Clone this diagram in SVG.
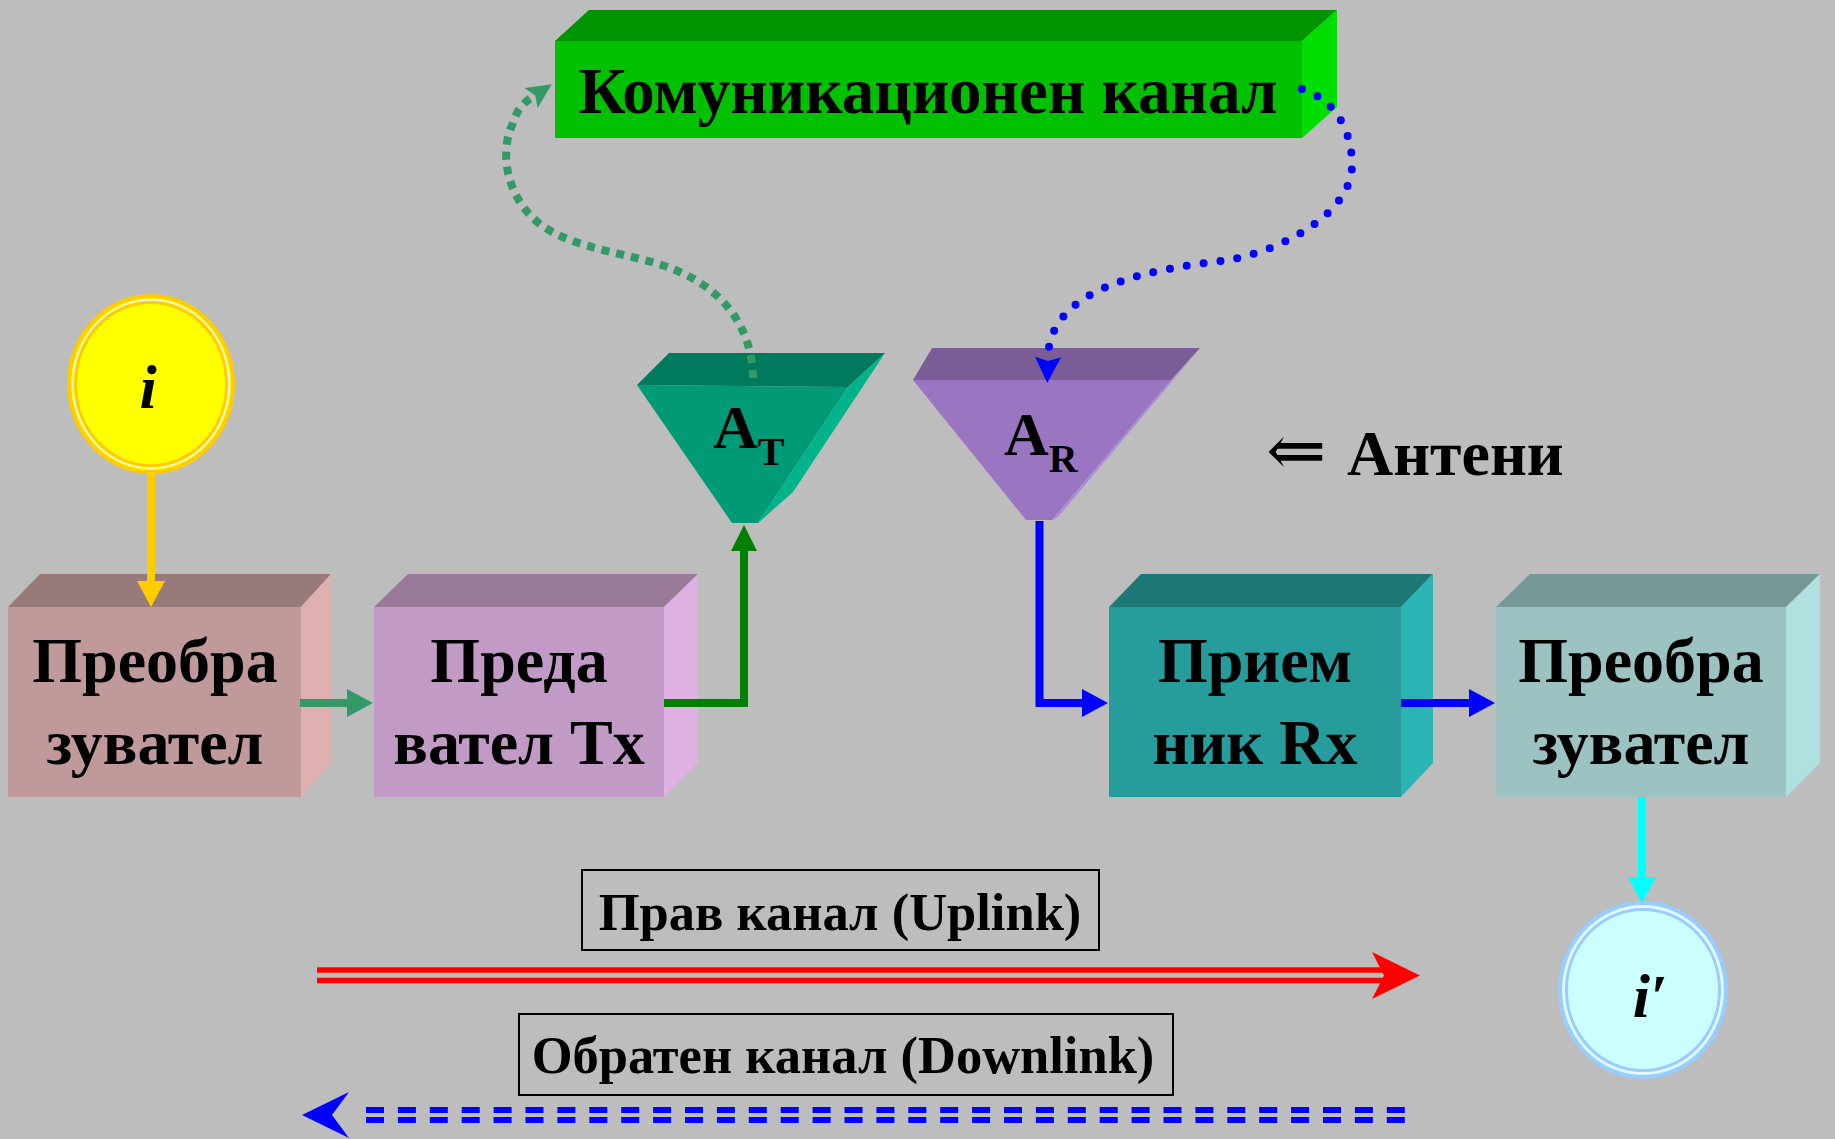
<svg xmlns="http://www.w3.org/2000/svg" width="1835" height="1139" viewBox="0 0 1835 1139">
<style>
.lbl{font-family:"Liberation Serif","Times New Roman","DejaVu Serif",serif;font-weight:bold;fill:#000;}
.big{font-size:64px;text-anchor:middle;}
.cap{font-size:52.5px;text-anchor:middle;}
.frame{fill:none;stroke:#000;stroke-width:2;}
.solid{fill:none;stroke-linecap:butt;stroke-linejoin:miter;stroke-width:8;}
</style>
<defs>
<marker id="mY" markerUnits="userSpaceOnUse" markerWidth="26" markerHeight="28" viewBox="0 -14 26 28" refX="0" refY="0" orient="auto"><path d="M0,-14 L26,0 L0,14 z" fill="#FFCC00"/></marker>
<marker id="mSG" markerUnits="userSpaceOnUse" markerWidth="26" markerHeight="28" viewBox="0 -14 26 28" refX="0" refY="0" orient="auto"><path d="M0,-14 L26,0 L0,14 z" fill="#339966"/></marker>
<marker id="mG" markerUnits="userSpaceOnUse" markerWidth="26" markerHeight="26" viewBox="0 -13 26 26" refX="0" refY="0" orient="auto"><path d="M0,-13 L26,0 L0,13 z" fill="#008000"/></marker>
<marker id="mB" markerUnits="userSpaceOnUse" markerWidth="26" markerHeight="28" viewBox="0 -14 26 28" refX="0" refY="0" orient="auto"><path d="M0,-14 L26,0 L0,14 z" fill="#0000FF"/></marker>
<marker id="mBd" markerUnits="userSpaceOnUse" markerWidth="26" markerHeight="26" viewBox="0 -13 26 26" refX="0" refY="0" orient="auto"><path d="M0,-13 L26,0 L0,13 L4,0 z" fill="#0000FF"/></marker>
<marker id="mC" markerUnits="userSpaceOnUse" markerWidth="26" markerHeight="28" viewBox="0 -14 26 28" refX="0" refY="0" orient="auto"><path d="M0,-14 L26,0 L0,14 z" fill="#00FFFF"/></marker>
<marker id="mSGd" markerUnits="userSpaceOnUse" markerWidth="25" markerHeight="24" viewBox="0 -12 25 24" refX="0" refY="0" orient="auto"><path d="M0,-12 L25,0 L0,12 L5,0 z" fill="#339966"/></marker>
</defs>
<rect x="0" y="0" width="1835" height="1139" fill="#BDBDBD"/>

<g id="channel">
<polygon points="555,41 589,10 1337,10 1302,41" fill="#009400"/>
<rect x="555" y="41" width="747" height="97" fill="#00C000"/>
<polygon points="1302,41 1337,10 1337,107 1302,138" fill="#00DD00"/>
<text class="lbl" x="928" y="113" font-size="65" text-anchor="middle">Комуникационен канал</text>
</g>

<g id="source-i">
<ellipse cx="151" cy="384" rx="82" ry="88" fill="#FFFF00" stroke="#FFCC00" stroke-width="4"/>
<ellipse cx="151" cy="384" rx="78" ry="84" fill="none" stroke="#E6F2FF" stroke-width="1.5"/>
<ellipse cx="151" cy="384" rx="75.5" ry="81.5" fill="none" stroke="#FFCC00" stroke-width="3"/>
<text class="lbl" x="148" y="408" font-size="62" font-style="italic" text-anchor="middle">i</text>
</g>

<g id="conv1">
<polygon points="8,607 40,574 331,574 301,607" fill="#987A7A"/>
<rect x="8" y="607" width="293" height="190" fill="#C09A9A"/>
<polygon points="301,607 331,574 331,763 301,797" fill="#DEB0B0"/>
<text class="lbl big" x="155" y="682">Преобра</text>
<text class="lbl big" x="155" y="764">зувател</text>
</g>

<g id="tx">
<polygon points="374,607 408,574 698,574 664,607" fill="#987A98"/>
<rect x="374" y="607" width="290" height="190" fill="#C19AC6"/>
<polygon points="664,607 698,574 698,763 664,797" fill="#DFB0E2"/>
<text class="lbl big" x="519" y="682">Преда</text>
<text class="lbl big" x="519" y="764">вател Tx</text>
</g>

<g id="ant-t">
<polygon points="637,385 669,353 885,353 848,387" fill="#007A5C"/>
<polygon points="637,385 848,387 758,523 732,523" fill="#009A76"/>
<polygon points="848,387 885,353 793,492 758,523" fill="#00B38A"/>
<text class="lbl" x="713" y="448" font-size="62">A<tspan font-size="40" dy="17">T</tspan></text>
</g>

<g id="ant-r">
<polygon points="913,380 932,348 1200,348 1171,380" fill="#7A5C96"/>
<polygon points="913,380 1171,380 1052,520 1026,520" fill="#9A76C2"/>
<polygon points="1171,380 1200,348 1058,517 1052,520" fill="#A98BD8"/>
<text class="lbl" x="1004" y="455" font-size="62">A<tspan font-size="40" dy="17">R</tspan></text>
</g>

<g id="antennas-label">
<text class="lbl" y="475" font-size="64"><tspan x="1266" font-weight="normal" font-family="DejaVu Serif, serif" font-size="72">⇐</tspan><tspan x="1347">Антени</tspan></text>
</g>

<g id="rx">
<polygon points="1109,607 1141,574 1433,574 1401,607" fill="#1E7878"/>
<rect x="1109" y="607" width="292" height="190" fill="#269C9C"/>
<polygon points="1401,607 1433,574 1433,763 1401,797" fill="#2AB4B4"/>
<text class="lbl big" x="1255" y="682">Прием</text>
<text class="lbl big" x="1255" y="764">ник Rx</text>
</g>

<g id="conv2">
<polygon points="1496,607 1530,574 1820,574 1786,607" fill="#789898"/>
<rect x="1496" y="607" width="290" height="190" fill="#9CC2C2"/>
<polygon points="1786,607 1820,574 1820,763 1786,797" fill="#B0E0E0"/>
<text class="lbl big" x="1641" y="682">Преобра</text>
<text class="lbl big" x="1641" y="764">зувател</text>
</g>

<g id="sink-i2">
<ellipse cx="1643" cy="990" rx="83" ry="87" fill="#CCFFFF" stroke="#99CCFF" stroke-width="4"/>
<ellipse cx="1643" cy="990" rx="79" ry="83" fill="none" stroke="#F2F2F2" stroke-width="1.5"/>
<ellipse cx="1643" cy="990" rx="76.5" ry="80.5" fill="none" stroke="#99CCFF" stroke-width="3"/>
<text class="lbl" x="1650" y="1017" font-size="62" font-style="italic" text-anchor="middle">i′</text>
</g>

<g id="uplink-label">
<rect class="frame" x="582" y="870" width="517" height="80"/>
<text class="lbl cap" x="840" y="930">Прав канал (Uplink)</text>
</g>

<g id="downlink-label">
<rect class="frame" x="519" y="1014" width="654" height="81"/>
<text class="lbl cap" x="843" y="1073" font-size="54">Обратен канал (Downlink)</text>
</g>

<g id="connectors">
<path class="solid" d="M151,473 V581" stroke="#FFCC00" stroke-width="7" marker-end="url(#mY)"/>
<path class="solid" d="M300,703 H347" stroke="#339966" marker-end="url(#mSG)"/>
<path class="solid" d="M664,703 H744 V551" stroke="#008000" marker-end="url(#mG)"/>
<path class="solid" d="M1039.5,521 V703 H1082" stroke="#0000FF" stroke-width="9" marker-end="url(#mB)"/>
<path class="solid" d="M1401,703 H1469" stroke="#0000FF" stroke-width="9" marker-end="url(#mB)"/>
<path class="solid" d="M1642,797 V877" stroke="#00FFFF" marker-end="url(#mC)"/>
<path d="M753,378 C752,320 715,280 655,263 C610,250 560,245 532,217 C505,190 500,150 513,123 C516,112 522,104 531,98" fill="none" stroke="#339966" stroke-width="8" stroke-dasharray="8 7" marker-end="url(#mSGd)"/>
<path d="M1302,89 C1335,100 1352,130 1352,165 C1352,210 1290,248 1229,260 C1140,270 1050,290 1048,357" fill="none" stroke="#0000FF" stroke-width="8" stroke-linecap="round" stroke-dasharray="0 17" marker-end="url(#mBd)"/>
<path d="M317,970 H1385 M317,980.5 H1385" fill="none" stroke="#FF0000" stroke-width="5.5"/>
<polygon points="1372,952 1420,975.5 1372,999 1384,975.5" fill="#FF0000"/>
<path d="M366,1110 H1405 M366,1120 H1405" fill="none" stroke="#0000FF" stroke-width="6" stroke-dasharray="18 13.9"/>
<polygon points="349,1092 302,1115 349,1138 332,1115" fill="#0000FF"/>
</g>
</svg>
